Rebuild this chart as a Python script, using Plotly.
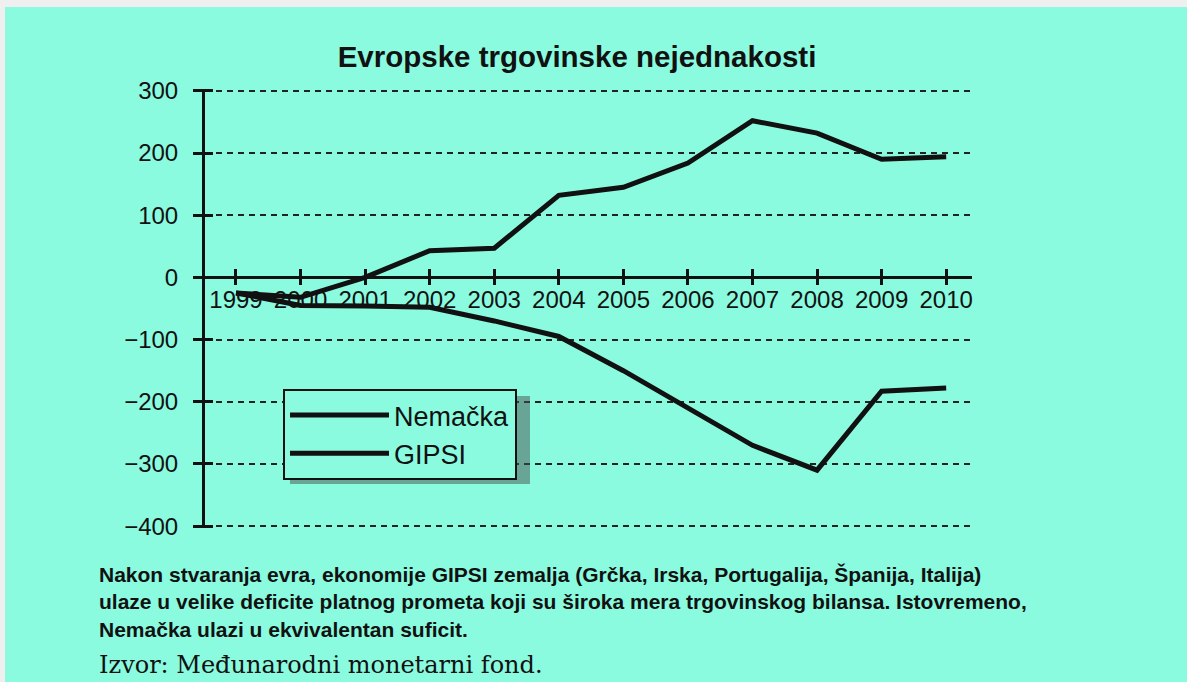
import plotly.graph_objects as go

years = [1999, 2000, 2001, 2002, 2003, 2004, 2005, 2006, 2007, 2008, 2009, 2010]
nemacka = [-25, -32, 0, 43, 47, 132, 145, 184, 252, 232, 190, 194]
gipsi = [-25, -45, -46, -48, -70, -95, -150, -210, -270, -310, -183, -178]
y_ticks = [300, 200, 100, 0, -100, -200, -300, -400]
x_tick_labels = [str(y) for y in years]

BG = "#8afbdf"
FONT = "Liberation Sans, Arial, sans-serif"
W, H = 1187, 682
L, R, T, B = 205, 215, 89, 154
PW, PH = W - L - R, H - T - B

def px(x):
    return (x - L) / PW

def py(y):
    return (H - B - y) / PH

fig = go.Figure()
line_style = dict(color="#111111", width=5)
fig.add_trace(go.Scatter(x=years, y=nemacka, mode="lines", name="Nemačka", line=line_style))
fig.add_trace(go.Scatter(x=years, y=gipsi, mode="lines", name="GIPSI", line=line_style))
# invisible helper trace to host the crossing-tick overlay axes
fig.add_trace(go.Scatter(x=years, y=gipsi, mode="lines", xaxis="x2", yaxis="y2",
                         line=dict(width=0), opacity=0, showlegend=False, hoverinfo="skip"))

xr = [1998.52, 2010.40]
yr = [-403, 303]
x0pos = (0 - yr[0]) / (yr[1] - yr[0])

fig.update_layout(
    width=W, height=H,
    margin=dict(l=L, r=R, t=T, b=B),
    paper_bgcolor=BG, plot_bgcolor=BG,
    font=dict(family=FONT, color="#111111"),
    showlegend=True,
    title=dict(text="<b>Evropske trgovinske nejednakosti</b>",
               x=577 / W, xanchor="center", y=1 - 57 / H, yanchor="middle",
               font=dict(family=FONT, size=29.5, color="#111111")),
    xaxis=dict(range=xr, tickvals=years, ticktext=x_tick_labels,
               anchor="free", position=x0pos, showline=True, linecolor="#111111",
               linewidth=3, ticks="outside", ticklen=6, tickwidth=2.5, tickcolor="#111111",
               ticklabelstandoff=-6,
               showgrid=False, zeroline=False, tickfont=dict(size=24, color="#111111")),
    xaxis2=dict(range=xr, tickvals=years, overlaying="x", anchor="free", position=x0pos,
                ticks="inside", ticklen=8, tickwidth=2.5, tickcolor="#111111",
                showticklabels=False, showgrid=False, zeroline=False, showline=False),
    yaxis=dict(range=yr, tickvals=y_ticks, showline=True, linecolor="#111111", linewidth=3,
               ticks="outside", ticklen=9, tickwidth=2.5, tickcolor="#111111",
               ticklabelstandoff=10,
               showgrid=True, gridcolor="#222222", gridwidth=1.8, griddash="6px,5px",
               zeroline=False, tickfont=dict(size=24, color="#111111")),
    yaxis2=dict(range=yr, tickvals=y_ticks, overlaying="y", side="left",
                ticks="inside", ticklen=8, tickwidth=2.5, tickcolor="#111111",
                showticklabels=False, showgrid=False, zeroline=False, showline=False),
    legend=dict(x=px(283), y=py(389), xanchor="left", yanchor="top",
                bgcolor=BG, bordercolor="#111111", borderwidth=2,
                font=dict(family=FONT, size=27, color="#111111"),
                itemwidth=99),
)

# scan border strips
fig.add_shape(type="rect", xref="paper", yref="paper", x0=px(0), x1=px(W), y0=py(7), y1=py(0),
              fillcolor="#efefef", line=dict(width=0), layer="above")
fig.add_shape(type="rect", xref="paper", yref="paper", x0=px(0), x1=px(5), y0=py(H), y1=py(0),
              fillcolor="#efefef", line=dict(width=0), layer="above")
# legend shadow
fig.add_shape(type="rect", xref="paper", yref="paper", x0=px(290), x1=px(530), y0=py(484), y1=py(396),
              fillcolor="rgba(70,80,80,0.5)", line=dict(width=0), layer="above")

caption = [
    "Nakon stvaranja evra, ekonomije GIPSI zemalja (Grčka, Irska, Portugalija, Španija, Italija)",
    "ulaze u velike deficite platnog prometa koji su široka mera trgovinskog bilansa. Istovremeno,",
    "Nemačka ulazi u ekvivalentan suficit.",
]
cap_y = [574, 601, 629]
for txt, yy in zip(caption, cap_y):
    fig.add_annotation(text="<b>" + txt + "</b>", xref="paper", yref="paper", x=px(97), y=py(yy),
                       xanchor="left", yanchor="middle", showarrow=False,
                       font=dict(family=FONT, size=21, color="#111111"))
fig.add_annotation(text="Izvor: Međunarodni monetarni fond.", xref="paper", yref="paper",
                   x=px(97), y=py(665), xanchor="left", yanchor="middle", showarrow=False,
                   font=dict(family="DejaVu Serif, serif", size=24, color="#111111"))

fig.write_html("out.html", post_script="document.body.style.margin='0px';",
               config={"displayModeBar": False})
